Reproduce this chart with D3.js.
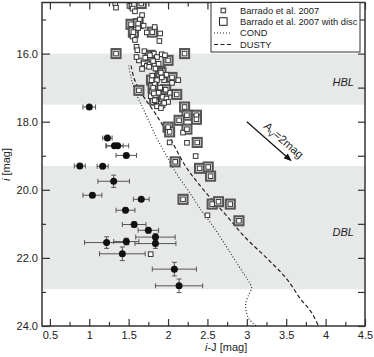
<!DOCTYPE html>
<html><head><meta charset="utf-8">
<script src="https://cdn.jsdelivr.net/npm/d3@7"></script>
<style>body{margin:0;background:#fff}svg{display:block;font-family:"Liberation Sans",Arial,sans-serif}</style>
</head><body><svg id="c" width="374" height="357"></svg>
<script>
// ---- data ----
const xTicks = [0.5,1,1.5,2,2.5,3,3.5,4,4.5];
const xMinor = [0.75,1.25,1.75,2.25,2.75,3.25,3.75,4.25];
const yTicks = [16,18,20,22,24];
const yMinor = [15,17,19,21,23];
const bandHBL = [16.0,17.5];
const bandDBL = [19.3,22.92];

const smallX = [1.33,1.34,1.51,1.55,1.58,1.67,1.64,1.69,1.73,1.83,1.90,1.89,1.55,1.58,1.60,1.61,1.59,1.62,1.70,
  1.75,1.82,1.86,1.92,1.96,1.63,1.69,1.73,1.77,1.79,1.67,1.76,1.84,1.88,1.81,1.71,1.60,
  1.86,1.95,2.13,2.05,1.90,1.96,1.93,1.98,1.89,1.93,1.86,1.91,1.83,2.02,1.88,1.78,2.00,1.85,1.95,1.80,1.98,1.92,
  2.19,2.02,2.24,2.35,2.50,1.78];
const smallY = [14.53,14.65,14.60,14.68,14.76,14.87,15.00,15.18,15.38,15.22,15.41,15.63,15.50,15.60,15.80,15.90,15.30,15.25,15.93,
  16.02,16.00,16.10,16.02,16.05,16.20,16.29,16.36,16.31,16.18,16.45,16.39,16.44,16.30,16.22,16.12,16.10,
  16.78,16.78,16.78,16.86,17.00,17.06,17.27,17.32,17.47,17.52,17.55,17.60,16.90,17.15,17.15,17.25,17.42,17.40,17.45,16.65,16.62,16.70,
  18.32,18.61,18.62,19.01,20.75,21.89];

const discX = [1.66,1.53,1.56,1.62,1.80,1.34,2.21,1.77,2.00,1.90,1.91,2.05,1.79,2.11,1.63,1.97,1.81,1.83,1.82,2.21,
  2.24,2.14,2.36,2.36,2.00,2.02,2.24,2.37,2.09,2.40,2.51,2.54,2.19,2.56,2.64,2.79,2.90];
const discY = [14.53,15.14,15.37,15.12,15.37,16.00,16.00,16.05,16.20,16.52,16.56,16.70,16.78,17.20,17.08,17.06,17.00,17.37,17.17,17.57,
  17.81,17.96,17.81,17.93,18.16,18.30,18.22,18.61,19.18,19.37,19.33,19.60,20.28,20.42,20.35,20.42,20.91];

const dotX = [1.00,1.23,1.32,1.36,1.47,0.88,1.17,1.31,1.04,1.66,1.46,1.57,1.75,1.84,1.22,1.47,1.84,1.42,2.08,2.14];
const dotY = [17.57,18.48,18.71,18.71,18.99,19.30,19.31,19.75,20.16,20.28,20.60,21.02,21.19,21.39,21.55,21.52,21.58,21.88,22.33,22.82];
const dotXerr = [0.08,0.06,0.11,0.14,0.13,0.07,0.07,0.20,0.12,0.10,0.12,0.15,0.13,0.25,0.28,0.16,0.26,0.29,0.28,0.30];
const dotYerr = [0.04,0.04,0.05,0.05,0.06,0.05,0.05,0.18,0.06,0.06,0.07,0.08,0.08,0.10,0.17,0.10,0.14,0.20,0.20,0.20];

const condX = [1.50,1.53,1.58,1.66,1.76,1.86,1.98,2.10,2.25,2.42,2.58,2.75,2.90,3.00,3.06,3.03,2.99,2.99,3.03,3.12];
const condY = [16.35,16.70,17.10,17.50,18.00,18.50,19.00,19.50,20.00,20.60,21.10,21.70,22.25,22.60,22.88,23.05,23.30,23.55,23.80,24.00];
const dustyX = [1.53,1.58,1.70,1.85,2.03,2.22,2.45,2.72,2.98,3.25,3.50,3.68,3.82,3.92];
const dustyY = [16.35,16.80,17.30,17.80,18.50,19.30,20.00,20.70,21.40,22.00,22.60,23.20,23.60,24.05];

const arrowFrom = [3.00,18.00];
const arrowTo = [3.57,19.16];
const legendLabels = ["Barrado et al. 2007","Barrado et al. 2007 with disc","COND","DUSTY"];

// ---- drawing ----
const svg = d3.select("#c");
const L=42,R=365,T=2.5,B=326;
const x = d3.scaleLinear().domain([0.4,4.5]).range([L,R]);
const y = d3.scaleLinear().domain([14.5,24]).range([T,B]);
const ink="#222", frame="#333";

svg.append("defs").append("clipPath").attr("id","clip")
  .append("rect").attr("x",L).attr("y",T).attr("width",R-L).attr("height",B-T);

const bands = svg.append("g");
[bandHBL,bandDBL].forEach(b=>{
  bands.append("rect").attr("x",L).attr("width",R-L)
    .attr("y",y(b[0])).attr("height",y(b[1])-y(b[0])).attr("fill","#e7e9e8");
});

const plot = svg.append("g").attr("clip-path","url(#clip)");

// model lines
const line = d3.line().x(d=>x(d[0])).y(d=>y(d[1])).curve(d3.curveCatmullRom);
plot.append("path").datum(condX.map((v,i)=>[v,condY[i]])).attr("d",line)
  .attr("fill","none").attr("stroke","#222").attr("stroke-width",1.1).attr("stroke-dasharray","1,2");
plot.append("path").datum(dustyX.map((v,i)=>[v,dustyY[i]])).attr("d",line)
  .attr("fill","none").attr("stroke","#222").attr("stroke-width",1.2).attr("stroke-dasharray","4,2.5");

// disc squares (large)
const bs=9, ss=4.6;
plot.append("g").selectAll("rect").data(discX.map((v,i)=>[v,discY[i]])).join("rect")
  .attr("x",d=>x(d[0])-bs/2).attr("y",d=>y(d[1])-bs/2).attr("width",bs).attr("height",bs)
  .attr("fill","#fff").attr("stroke","#555").attr("stroke-width",2.1);
// all members small squares
const allSmall = smallX.map((v,i)=>[v,smallY[i]]).concat(discX.map((v,i)=>[v,discY[i]]));
plot.append("g").selectAll("rect").data(allSmall).join("rect")
  .attr("x",d=>x(d[0])-ss/2).attr("y",d=>y(d[1])-ss/2).attr("width",ss).attr("height",ss)
  .attr("fill","#fff").attr("stroke","#333").attr("stroke-width",1);

// error bars + dots
const eb = plot.append("g").attr("stroke","#555").attr("stroke-width",1);
dotX.forEach((v,i)=>{
  const cx=x(v), cy=y(dotY[i]);
  const x0=x(v-dotXerr[i]), x1=x(v+dotXerr[i]);
  const y0=y(dotY[i]-dotYerr[i]), y1=y(dotY[i]+dotYerr[i]);
  eb.append("line").attr("x1",x0).attr("x2",x1).attr("y1",cy).attr("y2",cy);
  eb.append("line").attr("x1",x0).attr("x2",x0).attr("y1",cy-2.5).attr("y2",cy+2.5);
  eb.append("line").attr("x1",x1).attr("x2",x1).attr("y1",cy-2.5).attr("y2",cy+2.5);
  eb.append("line").attr("x1",cx).attr("x2",cx).attr("y1",y0).attr("y2",y1);
  eb.append("line").attr("x1",cx-2.5).attr("x2",cx+2.5).attr("y1",y0).attr("y2",y0);
  eb.append("line").attr("x1",cx-2.5).attr("x2",cx+2.5).attr("y1",y1).attr("y2",y1);
});
plot.append("g").selectAll("circle").data(dotX.map((v,i)=>[v,dotY[i]])).join("circle")
  .attr("cx",d=>x(d[0])).attr("cy",d=>y(d[1])).attr("r",3.5).attr("fill","#111");

// axes (inward ticks)
function styleAx(g){ g.select(".domain").remove(); g.selectAll("line").attr("stroke",frame).attr("stroke-width",1.2);
  g.selectAll("text").attr("fill",ink).style("font-size","11px").style("font-family","'Liberation Sans',Arial,sans-serif"); }
const fx = d=>String(d);
svg.append("g").attr("transform",`translate(0,${B})`).call(d3.axisBottom(x).tickValues(xTicks).tickSize(-7).tickPadding(5).tickFormat(fx)).call(styleAx);
svg.append("g").attr("transform",`translate(0,${B})`).call(d3.axisBottom(x).tickValues(xMinor).tickSize(-4).tickFormat("")).call(styleAx);
svg.append("g").attr("transform",`translate(0,${T})`).call(d3.axisTop(x).tickValues(xTicks).tickSize(-7).tickFormat("")).call(styleAx);
svg.append("g").attr("transform",`translate(0,${T})`).call(d3.axisTop(x).tickValues(xMinor).tickSize(-4).tickFormat("")).call(styleAx);
svg.append("g").attr("transform",`translate(${L},0)`).call(d3.axisLeft(y).tickValues(yTicks).tickSize(-8).tickPadding(4).tickFormat(d3.format(".1f"))).call(styleAx);
svg.append("g").attr("transform",`translate(${L},0)`).call(d3.axisLeft(y).tickValues(yMinor).tickSize(-4).tickFormat("")).call(styleAx);
svg.append("g").attr("transform",`translate(${R},0)`).call(d3.axisRight(y).tickValues(yTicks.concat(yMinor)).tickSize(-7).tickFormat("")).call(styleAx);

// frame
svg.append("rect").attr("x",L).attr("y",T).attr("width",R-L).attr("height",B-T)
  .attr("fill","none").attr("stroke",frame).attr("stroke-width",1.5);

// axis labels
svg.append("text").attr("x",205).attr("y",351).attr("fill",ink).style("font-size","11px")
  .html('<tspan font-style="italic">i</tspan>-J [mag]');
svg.append("text").attr("transform","translate(10,181) rotate(-90)").attr("fill",ink).style("font-size","11px")
  .html('<tspan font-style="italic">i</tspan> [mag]');

// band labels
svg.append("text").attr("x",354).attr("y",86).attr("text-anchor","end").attr("fill",ink)
  .style("font-size","11px").style("font-style","italic").text("HBL");
svg.append("text").attr("x",354).attr("y",236).attr("text-anchor","end").attr("fill",ink)
  .style("font-size","11px").style("font-style","italic").text("DBL");

// extinction arrow
const ax0=x(arrowFrom[0]), ay0=y(arrowFrom[1]), ax1=x(arrowTo[0]), ay1=y(arrowTo[1]);
const ang=Math.atan2(ay1-ay0,ax1-ax0), ux=Math.cos(ang), uy=Math.sin(ang);
const hl=8, hw=3.2;
svg.append("line").attr("x1",ax0).attr("y1",ay0).attr("x2",ax1-ux*hl*0.8).attr("y2",ay1-uy*hl*0.8)
  .attr("stroke","#111").attr("stroke-width",1.2);
svg.append("path").attr("d",`M${ax1},${ay1}L${ax1-ux*hl-uy*hw},${ay1-uy*hl+ux*hw}L${ax1-ux*hl+uy*hw},${ay1-uy*hl-ux*hw}Z`).attr("fill","#111");
const mx=(ax0+ax1)/2+ux*10+uy*6.5, my=(ay0+ay1)/2+uy*10-ux*6.5;
svg.append("text").attr("transform",`translate(${mx},${my}) rotate(${ang*180/Math.PI})`)
  .attr("text-anchor","middle").attr("fill",ink).style("font-size","11.5px")
  .html('A<tspan dy="3" font-size="8px">V</tspan><tspan dy="-3">=2mag</tspan>');

// legend
const lg = svg.append("g");
lg.append("rect").attr("x",211).attr("y",T).attr("width",149).attr("height",49.5)
  .attr("fill","#fff").attr("stroke","#333").attr("stroke-width",1);
const rows=[10.5,21.5,33,44.5];
lg.append("rect").attr("x",223.3-2.2).attr("y",rows[0]-2.2).attr("width",4.4).attr("height",4.4)
  .attr("fill","#fff").attr("stroke","#555").attr("stroke-width",1.3);
lg.append("rect").attr("x",223.3-3.8).attr("y",rows[1]-3.8).attr("width",7.6).attr("height",7.6)
  .attr("fill","#fff").attr("stroke","#222").attr("stroke-width",1);
lg.append("line").attr("x1",214).attr("x2",230).attr("y1",rows[2]).attr("y2",rows[2])
  .attr("stroke","#222").attr("stroke-width",1).attr("stroke-dasharray","1,2");
lg.append("line").attr("x1",214).attr("x2",231).attr("y1",rows[3]).attr("y2",rows[3])
  .attr("stroke","#222").attr("stroke-width",1.2).attr("stroke-dasharray","4,2.5");
legendLabels.forEach((t,i)=>{
  lg.append("text").attr("x",240).attr("y",rows[i]+3.3).attr("fill",ink).style("font-size","9.3px").text(t);
});
</script></body></html>
